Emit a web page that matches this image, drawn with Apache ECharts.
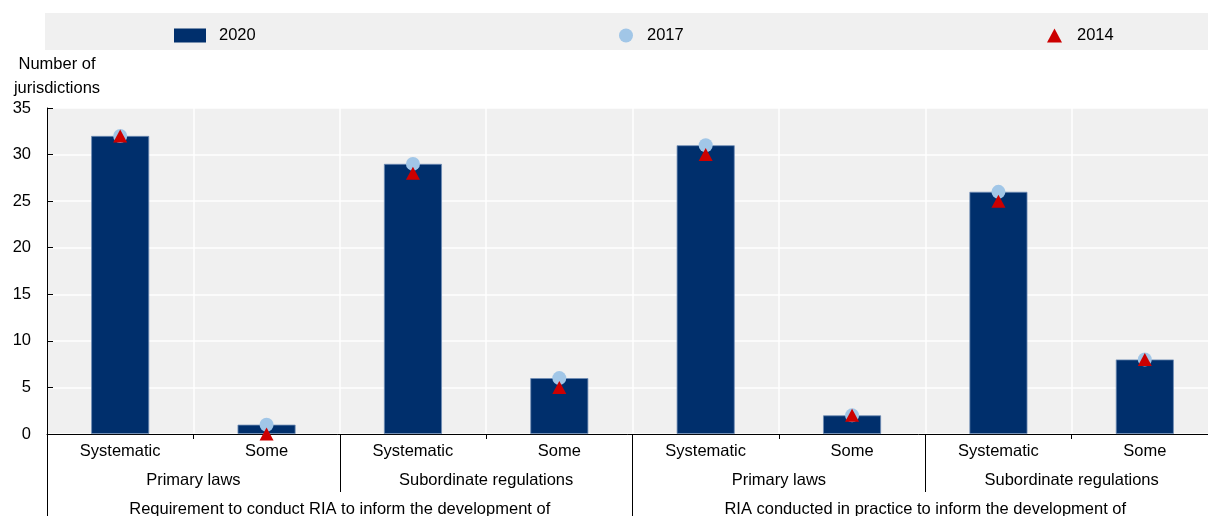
<!DOCTYPE html>
<html>
<head>
<meta charset="utf-8">
<script src="https://cdn.jsdelivr.net/npm/echarts@6/dist/echarts.min.js"></script>
<style>
html,body{margin:0;padding:0;background:#fff;}
#chart{width:1208px;height:516px;}
</style>
</head>
<body>
<div id="chart"></div>
<script>
const categories = ['Systematic','Some','Systematic','Some','Systematic','Some','Systematic','Some'];
const subGroups = ['Primary laws','Subordinate regulations','Primary laws','Subordinate regulations'];
const mainGroups = ['Requirement to conduct RIA to inform the development of','RIA conducted in practice to inform the development of'];
const values2020 = [32, 1, 29, 6, 31, 2, 26, 8];
const values2017 = [32, 1, 29, 6, 31, 2, 26, 8];
const values2014 = [32, 0, 28, 5, 30, 2, 25, 8];
const yTicks = [0, 5, 10, 15, 20, 25, 30, 35];

const FONT = "'Liberation Sans', Arial, sans-serif";
const FS = 16.5;
const chart = echarts.init(document.getElementById('chart'));

function legendAt(name, left, icon, w, h, padLeft){
  return {
    data:[{name:name, icon:icon, itemStyle:{borderWidth:0}}],
    left:left, top:27, padding:0,
    itemWidth:w, itemHeight:h,
    selectedMode:false,
    textStyle:{fontFamily:FONT, fontSize:FS, color:'#000', padding:[0,0,0,padLeft]}
  };
}

chart.setOption({
  animation:false,
  textStyle:{fontFamily:FONT},
  graphic:[
    {type:'rect', shape:{x:45, y:13, width:1163, height:37}, style:{fill:'#f0f0f0'}, z:-1},
    {type:'text', x:57, y:52, style:{text:'Number of\njurisdictions', fill:'#000', font:FS+'px '+FONT, textAlign:'center', lineHeight:24}}
  ],
  legend:[
    legendAt('2020', 174, 'rect', 32, 14, 8),
    legendAt('2017', 619, 'circle', 14, 14, 9),
    legendAt('2014', 1047, 'triangle', 15, 14, 10)
  ],
  grid:{left:47, right:-10, top:108, bottom:82, show:true, backgroundColor:'#f0f0f0', borderWidth:0, containLabel:false, outerBoundsMode:'none'},
  xAxis:[
    {
      type:'category', data:categories, boundaryGap:true,
      axisLine:{show:true, lineStyle:{color:'#000', width:1}},
      axisTick:{show:true, interval:0, length:5, lineStyle:{color:'#000'}},
      axisLabel:{interval:0, fontSize:FS, color:'#000', margin:9, fontFamily:FONT},
      splitLine:{show:true, interval:0, lineStyle:{color:'#fff', width:1.5}}
    },
    {
      type:'category', data:subGroups, boundaryGap:true, position:'bottom', offset:58,
      axisLine:{show:false},
      axisTick:{show:true, inside:true, interval:0, length:58, lineStyle:{color:'#000'}},
      axisLabel:{interval:0, fontSize:FS, color:'#000', margin:-20, fontFamily:FONT},
      splitLine:{show:false}
    },
    {
      type:'category', data:mainGroups, boundaryGap:true, position:'bottom', offset:58,
      axisLine:{show:false},
      axisTick:{show:true, inside:false, interval:0, length:30, lineStyle:{color:'#000'}},
      axisLabel:{interval:0, fontSize:FS, color:'#000', margin:9, fontFamily:FONT},
      splitLine:{show:false}
    }
  ],
  yAxis:{
    type:'value', min:yTicks[0], max:yTicks[yTicks.length-1], interval:5,
    axisLine:{show:true, lineStyle:{color:'#000', width:1}},
    axisTick:{show:true, inside:true, length:6, lineStyle:{color:'#000'}},
    axisLabel:{fontSize:FS, color:'#000', margin:16, fontFamily:FONT},
    splitLine:{show:true, lineStyle:{color:'#fff', width:1.5}}
  },
  series:[
    {
      name:'2020', type:'bar', data:values2020, barWidth:58, xAxisIndex:0,
      itemStyle:{color:'#002F6C', borderColor:'#6f8db5', borderWidth:0.8}, z:2
    },
    {
      name:'2017', type:'scatter', data:values2017, symbol:'circle', symbolSize:14, xAxisIndex:0,
      itemStyle:{color:'#A1C6E7', opacity:1}, z:3
    },
    {
      name:'2014', type:'scatter', data:values2014, symbol:'triangle', symbolSize:[14,13], xAxisIndex:0,
      itemStyle:{color:'#CC0000', opacity:1}, z:4
    }
  ]
});
</script>
</body>
</html>
